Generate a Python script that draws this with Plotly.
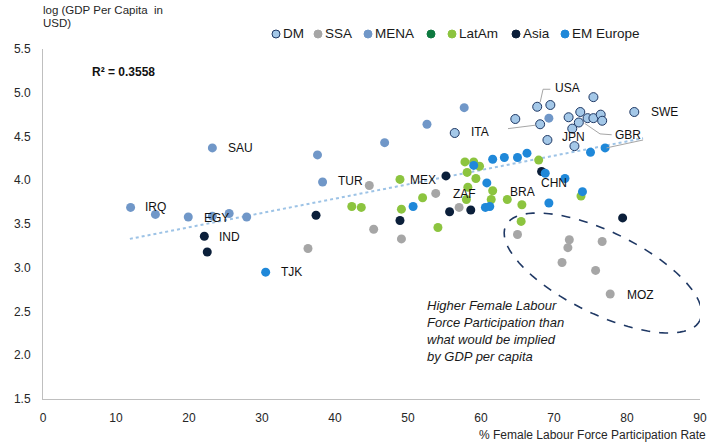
import numpy as np
import plotly.graph_objects as go

# --- data: x = % female labour force participation, y = log GDP per capita
dm_x = [56.4, 67.7, 69.5, 75.4, 64.7, 68.1, 72.0, 73.6, 73.4, 74.6, 75.4, 76.4, 76.6, 81.0, 72.5, 69.1, 72.8]
dm_y = [4.54, 4.84, 4.86, 4.95, 4.70, 4.64, 4.72, 4.78, 4.66, 4.71, 4.71, 4.75, 4.68, 4.78, 4.59, 4.46, 4.39]

ssa_x = [44.7, 53.8, 57.0, 45.3, 49.1, 36.3, 65.0, 72.1, 71.9, 76.6, 71.1, 75.7, 77.7]
ssa_y = [3.94, 3.85, 3.69, 3.44, 3.33, 3.22, 3.38, 3.32, 3.23, 3.30, 3.06, 2.97, 2.70]

mena_x = [23.2, 37.6, 38.3, 12.0, 15.4, 19.9, 23.2, 25.5, 27.9, 46.8, 52.6, 57.7, 69.3]
mena_y = [4.37, 4.29, 3.98, 3.69, 3.61, 3.58, 3.59, 3.62, 3.58, 4.43, 4.64, 4.83, 4.71]

latam_x = [42.3, 43.6, 48.9, 52.0, 49.1, 57.8, 59.0, 59.8, 58.1, 59.3, 58.2, 61.6, 61.4, 58.0,
           54.1, 67.9, 73.7, 65.6, 63.6, 65.5]
latam_y = [3.70, 3.69, 4.01, 3.80, 3.67, 4.21, 4.21, 4.16, 4.09, 4.02, 3.92, 3.88, 3.78, 3.78,
           3.46, 4.23, 3.82, 3.72, 3.78, 3.53]

asia_x = [22.1, 22.5, 37.4, 55.2, 48.9, 55.7, 58.6, 68.3, 79.4]
asia_y = [3.36, 3.18, 3.60, 4.05, 3.54, 3.64, 3.66, 4.10, 3.57]

eme_x = [30.5, 50.7, 59.0, 61.6, 60.8, 60.6, 61.2, 63.2, 65.0, 66.3, 75.0, 77.0, 68.8, 71.5, 73.9, 69.3]
eme_y = [2.95, 3.70, 4.17, 4.24, 3.97, 3.69, 3.70, 4.26, 4.26, 4.31, 4.32, 4.37, 4.08, 4.02, 3.87, 3.74]

# linear trend (ends)
trend_x = [11.9, 82.2]
trend_y = [3.33, 4.48]

# country labels (text left edge, centre height)
label_txt = ["SAU", "TUR", "IRQ", "EGY", "IND", "TJK", "MEX", "ZAF", "BRA", "CHN",
             "ITA", "USA", "SWE", "JPN", "GBR", "MOZ"]
label_x = [25.1, 40.1, 13.7, 21.8, 23.8, 32.3, 50.0, 55.9, 63.7, 67.9,
           58.4, 69.9, 83.0, 70.8, 78.1, 79.7]
label_y = [4.37, 3.99, 3.69, 3.57, 3.35, 2.95, 4.00, 3.84, 3.87, 3.97,
           4.55, 5.06, 4.78, 4.50, 4.52, 2.69]

FONT = "Liberation Sans"
GREY = "#a6a6a6"

groups = [
    ("DM", dm_x, dm_y, "#a4c8e8", "#1f3864"),
    ("SSA", ssa_x, ssa_y, "#a6a6a6", None),
    ("MENA", mena_x, mena_y, "#7097c8", None),
    (" ", [], [], "#0e7a40", None),
    ("LatAm", latam_x, latam_y, "#8cc43f", None),
    ("Asia", asia_x, asia_y, "#0b1f3a", None),
    ("EM Europe", eme_x, eme_y, "#1f88d9", None),
]

fig = go.Figure()

fig.add_trace(go.Scatter(x=trend_x, y=trend_y, mode="lines", showlegend=False,
                         line=dict(color="#9dc3e6", width=2, dash="dot"), hoverinfo="skip"))

for name, xs, ys, col, edge in groups:
    fig.add_trace(go.Scatter(
        x=xs, y=ys, mode="markers", name=name, showlegend=False,
        marker=dict(size=9, color=col,
                    line=dict(color=edge or col, width=1 if edge else 0)),
    ))

# plot area in page pixels (body margin is removed in the html, see bottom)
W, H = 721, 446
L, R, T, B = 43, 700, 49, 399


def px(xp):
    return (xp - L) / (R - L)


def py(yp):
    return (B - yp) / (B - T)


shapes = []
annotations = []

# hand-made legend (plotly's own legend can't pack entries this tightly)
leg_pos = [276, 318, 368, 431, 452, 516, 565]
for (name, _, _, col, edge), lx in zip(groups, leg_pos):
    shapes.append(dict(type="circle", xref="paper", yref="paper",
                       xsizemode="pixel", ysizemode="pixel",
                       xanchor=px(lx), yanchor=py(34),
                       x0=-4, x1=4, y0=-4, y1=4,
                       fillcolor=col, line=dict(color=edge or col, width=1)))
    annotations.append(dict(text=name, xref="paper", yref="paper", x=px(lx), y=py(34),
                            xshift=5, xanchor="left", yanchor="middle", showarrow=False,
                            font=dict(size=13.5, color="#1a1a1a", family=FONT)))

# leader lines
leaders = [
    "M 69.5 5.04 L 68.5 5.04 L 68.1 4.89",
    "M 63.7 4.59 L 67.5 4.63",
    "M 74.2 4.65 L 76.3 4.53 L 77.9 4.52",
    "M 77.2 4.37 L 82.2 4.46",
]
for p in leaders:
    shapes.append(dict(type="path", xref="x", yref="y", path=p,
                       line=dict(color=GREY, width=1)))

# dashed ellipse round the high-participation group
t = np.linspace(0, 2 * np.pi, 90)
th = np.radians(26)
a, b = 108, 41  # semi axes in pixels
dx = a * np.cos(t) * np.cos(th) - b * np.sin(t) * np.sin(th)
dy = a * np.cos(t) * np.sin(th) + b * np.sin(t) * np.cos(th)
ex = 76.7 + dx / 7.3
ey = 2.94 - dy / 87.5
path = "M " + " L ".join(f"{u:.3f} {v:.3f}" for u, v in zip(ex, ey)) + " Z"
shapes.append(dict(type="path", xref="x", yref="y", path=path,
                   line=dict(color="#1f3864", width=1.6, dash="dash")))

for txt, lx, ly in zip(label_txt, label_x, label_y):
    annotations.append(dict(text=txt, x=lx, y=ly, xref="x", yref="y", xanchor="left",
                            yanchor="middle", showarrow=False,
                            font=dict(size=12, color="#111111", family=FONT)))

# y title sits top-left in two tight lines
for line, ly in [("log (GDP Per Capita  in", 10), ("USD)", 23.5)]:
    annotations.append(dict(text=line, xref="paper", yref="paper", x=px(41), y=py(ly),
                            xanchor="left", yanchor="middle", showarrow=False,
                            font=dict(size=11.5, color="#262626", family=FONT)))

annotations += [
    dict(text="<b>R² = 0.3558</b>", xref="paper", yref="paper", x=px(90), y=py(72),
         xanchor="left", yanchor="middle", showarrow=False,
         font=dict(size=12, color="#111111", family=FONT)),
    dict(text="% Female Labour Force Participation Rate", xref="paper", yref="paper",
         x=px(708), y=py(435), xanchor="right", yanchor="middle", showarrow=False,
         font=dict(size=12, color="#262626", family=FONT)),
    dict(text="<i>Higher Female Labour<br>Force Participation than<br>what would be implied<br>by GDP per capita</i>",
         x=52.3, y=2.68, xref="x", yref="y", xanchor="left", yanchor="top", align="left",
         showarrow=False, font=dict(size=13, color="#1a1a1a", family=FONT)),
]

fig.update_layout(
    width=W, height=H, autosize=False,
    margin=dict(l=L, r=W - R, t=T, b=H - B),
    plot_bgcolor="white", paper_bgcolor="white",
    font=dict(family=FONT, size=12, color="#262626"),
    showlegend=False,
    shapes=shapes, annotations=annotations,
    xaxis=dict(range=[0, 90], dtick=10, showgrid=False, zeroline=False,
               showline=True, linecolor="#bfbfbf", linewidth=1,
               ticks="", ticklabelstandoff=8, tickfont=dict(size=12)),
    yaxis=dict(range=[1.5, 5.5], dtick=0.5, tickformat=".1f", showgrid=False, zeroline=False,
               showline=True, linecolor="#bfbfbf", linewidth=1,
               ticks="", ticklabelstandoff=9, tickfont=dict(size=12)),
)

# drop the browser's default 8px body margin so the figure fills the window
fig.write_html("out.html", config={"displayModeBar": False},
               post_script="document.body.style.margin='0';")
